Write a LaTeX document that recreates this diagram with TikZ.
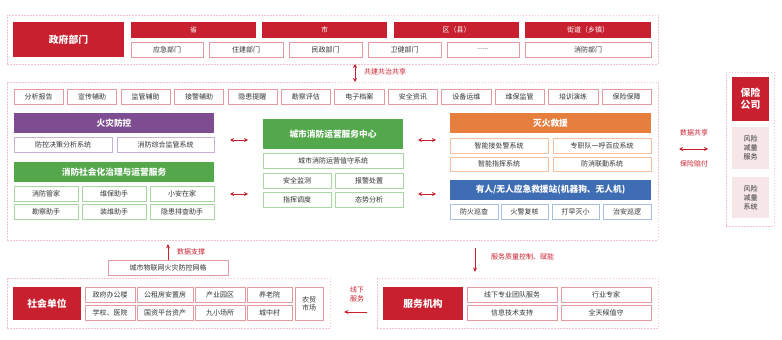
\documentclass[tikz,border=0pt]{standalone}
\usepackage{fontspec}
\setmainfont{Noto Sans CJK SC}
\usetikzlibrary{arrows.meta}
\definecolor{cred}{HTML}{C8202F}
\definecolor{lred}{HTML}{E39AA0}
\definecolor{fpink}{HTML}{F2C4CA}
\definecolor{cpur}{HTML}{7E4D91}
\definecolor{lpur}{HTML}{C7B0D6}
\definecolor{cgrn}{HTML}{52A84A}
\definecolor{lgrn}{HTML}{A9D6A2}
\definecolor{corg}{HTML}{E67E3E}
\definecolor{lorg}{HTML}{F4C0A0}
\definecolor{cblu}{HTML}{3F6DB3}
\definecolor{lblu}{HTML}{A9BFE3}
\definecolor{pinkf}{HTML}{F6E6E8}
\definecolor{txt}{HTML}{333333}
\newcommand\bx[7]{\node[#6, minimum width={(#4-#2)*1pt}, minimum height={(#5-#3)*1pt}] (#1) at ({(#2+#4)/2},{(#3+#5)/2}) {#7};}
\tikzset{
  basebox/.style={inner sep=0pt, outer sep=0pt, align=center},
  hdr/.style={basebox, fill=#1, text=white, font=\fontsize{8.7}{10}\selectfont\bfseries},
  bighdr/.style={basebox, fill=cred, text=white, font=\fontsize{9.8}{12}\selectfont\bfseries},
  lvl/.style={basebox, fill=cred, text=white, font=\fontsize{7}{8}\selectfont},
  sub/.style={basebox, draw=#1, line width=0.6pt, fill=white, text=txt, font=\fontsize{7}{8}\selectfont},
  sub/.default=lred,
  pinkbox/.style={basebox, fill=pinkf, text=txt, font=\fontsize{7}{9}\selectfont},
  frame/.style={basebox, draw=fpink, line width=0.5pt, dash pattern=on 1.5pt off 1.5pt},
  lbl/.style={inner sep=0pt, text=cred, font=\fontsize{7}{9}\selectfont},
  dbl/.style={{Stealth[length=4pt,width=4pt]}-{Stealth[length=4pt,width=4pt]}, draw=cred, line width=0.8pt},
  one/.style={-{Stealth[length=4.5pt,width=4pt]}, draw=cred, line width=0.8pt},
}
\begin{document}
\begin{tikzpicture}[x=1pt,y=-1pt]
\useasboundingbox (0,0) rectangle (782,340);
% ---------- government ----------
\bx{govf}{7}{15}{658}{64}{frame}{}
\bx{gov}{13}{22}{124}{57}{bighdr}{政府部门}
\bx{sheng}{131}{22}{256}{38}{lvl}{省}
\bx{shi}{262}{22}{387}{38}{lvl}{市}
\bx{qu}{394}{22}{519}{38}{lvl}{区（县）}
\bx{jd}{525}{22}{651}{38}{lvl}{街道（乡镇）}
\bx{g1}{131}{42}{203}{57}{sub}{应急部门}
\bx{g2}{209}{42}{283}{57}{sub}{住建部门}
\bx{g3}{289}{42}{362}{57}{sub}{民政部门}
\bx{g4}{368}{42}{441}{57}{sub}{卫健部门}
\bx{g5}{447}{42}{519}{57}{sub}{......}
\bx{g6}{525}{42}{651}{57}{sub}{消防部门}
% ---------- middle frame ----------
\bx{midf}{7}{82}{658}{240}{frame}{}
\coordinate (ga) at (355,64);
\coordinate (gb) at (355,82);
\draw[dbl] (ga) -- (gb);
\node[lbl, anchor=west] (gl) at (364,72) {共建共治共享};
% tags
\foreach \t [count=\i from 0] in {分析报告,宣传辅助,监管辅助,接警辅助,隐患提醒,勘察评估,电子档案,安全资讯,设备运维,维保监管,培训演练,保险保障}{
  \pgfmathsetmacro\xa{14+53.45*\i}
  \pgfmathsetmacro\xb{\xa+49.3}
  \bx{tag\i}{\xa}{89}{\xb}{104}{sub}{\t}
}
% left group
\bx{fire}{14}{113}{214}{133}{hdr=cpur}{火灾防控}
\bx{f1}{14}{137}{112}{152}{sub=lpur}{防控决策分析系统}
\bx{f2}{117}{137}{214}{152}{sub=lpur}{消防综合监管系统}
\bx{soc}{14}{162}{214}{182}{hdr=cgrn}{消防社会化治理与运营服务}
\bx{s1}{14}{186}{78}{201}{sub=lgrn}{消防管家}
\bx{s2}{82}{186}{146}{201}{sub=lgrn}{维保助手}
\bx{s3}{150}{186}{214}{201}{sub=lgrn}{小安在家}
\bx{s4}{14}{204}{78}{219}{sub=lgrn}{勘察助手}
\bx{s5}{82}{204}{146}{219}{sub=lgrn}{装维助手}
\bx{s6}{150}{204}{214}{219}{sub=lgrn}{隐患排查助手}
% center
\bx{ctr}{263}{119}{403}{149}{hdr=cgrn}{城市消防运营服务中心}
\bx{c0}{263}{153}{403}{168}{sub=lgrn}{城市消防运营值守系统}
\bx{c1}{263}{173}{331}{188}{sub=lgrn}{安全监测}
\bx{c2}{335}{173}{403}{188}{sub=lgrn}{报警处置}
\bx{c3}{263}{192}{331}{207}{sub=lgrn}{指挥调度}
\bx{c4}{335}{192}{403}{207}{sub=lgrn}{态势分析}
% right group
\bx{resc}{450}{113}{651}{133}{hdr=corg}{灭火救援}
\bx{r1}{450}{138}{548}{153}{sub=lorg}{智能接处警系统}
\bx{r2}{553}{138}{651}{153}{sub=lorg}{专职队一呼百应系统}
\bx{r3}{450}{157}{548}{171}{sub=lorg}{智能指挥系统}
\bx{r4}{553}{157}{651}{171}{sub=lorg}{防消联勤系统}
\bx{stat}{450}{180}{651}{200}{hdr=cblu}{有人/无人应急救援站(机器狗、无人机)}
\bx{b1}{450}{204}{498}{219}{sub=lblu}{防火巡查}
\bx{b2}{501}{204}{548}{219}{sub=lblu}{火警复核}
\bx{b3}{552}{204}{599}{219}{sub=lblu}{打早灭小}
\bx{b4}{603}{204}{651}{219}{sub=lblu}{治安巡逻}
% inner arrows
\coordinate (a1) at (230,140); \coordinate (a2) at (248,140);
\coordinate (a3) at (230,194); \coordinate (a4) at (248,194);
\coordinate (a5) at (418,140); \coordinate (a6) at (436,140);
\coordinate (a7) at (418,194); \coordinate (a8) at (436,194);
\draw[dbl] (a1) -- (a2);
\draw[dbl] (a3) -- (a4);
\draw[dbl] (a5) -- (a6);
\draw[dbl] (a7) -- (a8);
% ---------- insurance ----------
\bx{insf}{726}{72}{774}{226}{frame}{}
\bx{ins}{732}{77}{769}{121}{bighdr}{保险\\公司}
\bx{i1}{732}{127}{769}{169}{pinkbox}{风险\\减量\\服务}
\bx{i2}{732}{177}{769}{218}{pinkbox}{风险\\减量\\系统}
\coordinate (ia) at (679,149); \coordinate (ib) at (708,149);
\draw[dbl] (ia) -- (ib);
\node[lbl] (il1) at (694,133) {数据共享};
\node[lbl] (il2) at (694,164) {保险赔付};
% ---------- bottom left ----------
\bx{iot}{108}{260}{228}{275}{sub}{城市物联网火灾防控网格}
\coordinate (da) at (168,260); \coordinate (db) at (168,244);
\draw[one] (da) -- (db);
\node[lbl, anchor=west] (dl) at (177,252) {数据支撑};
\bx{socf}{7}{278}{330}{328}{frame}{}
\bx{su}{13}{287}{81}{320}{bighdr}{社会单位}
\bx{u1}{85}{287}{135}{302}{sub}{政府办公楼}
\bx{u2}{137}{287}{193}{302}{sub}{公租房安置房}
\bx{u3}{195}{287}{245}{302}{sub}{产业园区}
\bx{u4}{247}{287}{292}{302}{sub}{养老院}
\bx{u5}{85}{305}{135}{320}{sub}{学校、医院}
\bx{u6}{137}{305}{193}{320}{sub}{国资平台资产}
\bx{u7}{195}{305}{245}{320}{sub}{九小场所}
\bx{u8}{247}{305}{292}{320}{sub}{城中村}
\bx{u9}{295}{287}{323}{320}{sub}{农贸\\市场}
% ---------- bottom right ----------
\coordinate (sa) at (475,248); \coordinate (sb) at (475,272);
\draw[one] (sa) -- (sb);
\node[lbl, anchor=west] (sl) at (491,257) {服务质量控制、赋能};
\coordinate (xa) at (367,312); \coordinate (xb) at (344,312);
\draw[one] (xa) -- (xb);
\node[lbl, align=center] (xl) at (357,294) {线下\\服务};
\bx{svf}{377}{278}{658}{328}{frame}{}
\bx{sv}{383}{287}{463}{320}{bighdr}{服务机构}
\bx{v1}{467}{287}{557}{302}{sub}{线下专业团队服务}
\bx{v2}{561}{287}{651}{302}{sub}{行业专家}
\bx{v3}{467}{305}{557}{320}{sub}{信息技术支持}
\bx{v4}{561}{305}{651}{320}{sub}{全天候值守}
\end{tikzpicture}
\end{document}
